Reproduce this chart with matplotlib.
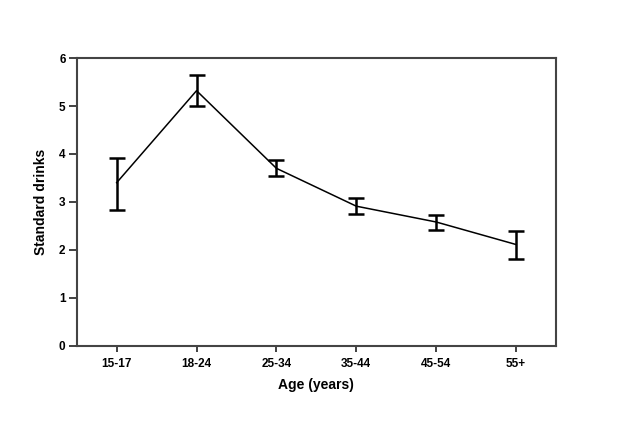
import matplotlib
matplotlib.use("Agg")
import matplotlib.pyplot as plt

# Consommation moyenne par tranche d'age
age_groups = ["15-17", "18-24", "25-34", "35-44", "45-54", "55+"]
mean_drinks = [3.40, 5.32, 3.70, 2.91, 2.58, 2.11]
ci_low = [2.83, 5.01, 3.54, 2.75, 2.42, 1.81]
ci_high = [3.91, 5.64, 3.87, 3.09, 2.72, 2.39]

plt.rcParams['font.family'] = ['Liberation Sans', 'DejaVu Sans']

fig = plt.figure(figsize=(6.34, 4.21), dpi=100)
ax = fig.add_axes([0.121, 0.179, 0.756, 0.683])

x = list(range(len(age_groups)))
err_low = [m - l for m, l in zip(mean_drinks, ci_low)]
err_high = [h - m for m, h in zip(mean_drinks, ci_high)]

ax.plot(x, mean_drinks, color='black', linewidth=1.1)
ax.errorbar(x, mean_drinks, yerr=[err_low, err_high], fmt='none',
            ecolor='black', elinewidth=1.8, capsize=5.6, capthick=1.8)

ax.set_xlim(-0.5, 5.5)
ax.set_ylim(0, 6)
ax.set_xticks(x)
ax.set_xticklabels(age_groups, fontsize=8.5, fontweight='bold')
ax.set_yticks(range(7))
ax.set_yticklabels([str(v) for v in range(7)], fontsize=8.5, fontweight='bold')
ax.tick_params(axis='y', length=6, width=1.3, color='#333333', pad=2)
ax.tick_params(axis='x', length=4, width=1.3, color='#333333', pad=5)

for sp in ax.spines.values():
    sp.set_color('#444444')
    sp.set_linewidth(1.5)

ax.set_xlabel('Age (years)', fontsize=10, fontweight='bold', labelpad=6)
ax.set_ylabel('Standard drinks', fontsize=10, fontweight='bold', labelpad=8)

plt.savefig("out.png", dpi=100)
